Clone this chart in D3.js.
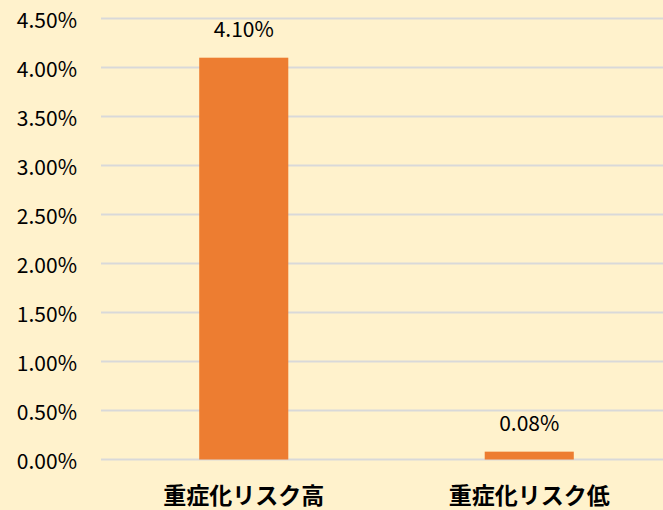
<!DOCTYPE html>
<html>
<head>
<meta charset="utf-8">
<style>
    body { margin: 0; background: #FFF2CC; }
    svg { display: block; }
    .grid line { stroke: #D9D9D9; stroke-width: 2; }
    .tick-label, .val-label { font-family: "Noto Sans CJK JP", "Noto Sans", sans-serif; font-size: 21px; fill: #000; }
    .cat-label { font-family: "Noto Sans CJK JP", sans-serif; font-size: 23px; font-weight: bold; fill: #000; }
</style>
</head>
<body>
<svg width="663" height="510"></svg>
<script src="https://d3js.org/d3.v7.min.js"></script>
<script>
    var categories = ["重症化リスク高", "重症化リスク低"];
    var values = [4.10, 0.08];
    var valueLabels = ["4.10%", "0.08%"];
    var yTicks = [0, 0.5, 1, 1.5, 2, 2.5, 3, 3.5, 4, 4.5];

    var svg = d3.select("svg");

    svg.append("rect").attr("width", 663).attr("height", 510).attr("fill", "#FFF2CC");

    var x = d3.scaleBand()
        .domain(categories)
        .range([101, 672]);

    var y = d3.scaleLinear()
        .domain([0, 4.5])
        .range([459.5, 18.5]);

    var barW = x.bandwidth() * 0.312;

    // gridlines
    svg.append("g").attr("class", "grid")
        .selectAll("line")
        .data(yTicks)
        .enter().append("line")
        .attr("x1", 101)
        .attr("x2", 663)
        .attr("y1", function (d) { return y(d); })
        .attr("y2", function (d) { return y(d); });

    // tick labels
    svg.append("g")
        .selectAll("text")
        .data(yTicks)
        .enter().append("text")
        .attr("class", "tick-label")
        .attr("x", 77)
        .attr("y", function (d) { return y(d); })
        .attr("text-anchor", "end")
        .attr("dominant-baseline", "central")
        .text(function (d) { return d.toFixed(2) + "%"; });

    // bars
    svg.append("g")
        .selectAll("rect")
        .data(values)
        .enter().append("rect")
        .attr("x", function (d, i) { return x(categories[i]) + x.bandwidth() / 2 - barW / 2; })
        .attr("width", barW)
        .attr("y", function (d) { return y(d); })
        .attr("height", function (d) { return y(0) - y(d); })
        .attr("fill", "#ED7D31");

    // value labels
    svg.append("g")
        .selectAll("text")
        .data(values)
        .enter().append("text")
        .attr("class", "val-label")
        .attr("x", function (d, i) { return x(categories[i]) + x.bandwidth() / 2; })
        .attr("y", function (d) { return y(d) - 30; })
        .attr("text-anchor", "middle")
        .attr("dominant-baseline", "central")
        .text(function (d, i) { return valueLabels[i]; });

    // category labels
    svg.append("g")
        .selectAll("text")
        .data(categories)
        .enter().append("text")
        .attr("class", "cat-label")
        .attr("x", function (d) { return x(d) + x.bandwidth() / 2; })
        .attr("y", 494)
        .attr("text-anchor", "middle")
        .attr("dominant-baseline", "central")
        .text(function (d) { return d; });
</script>
</body>
</html>
